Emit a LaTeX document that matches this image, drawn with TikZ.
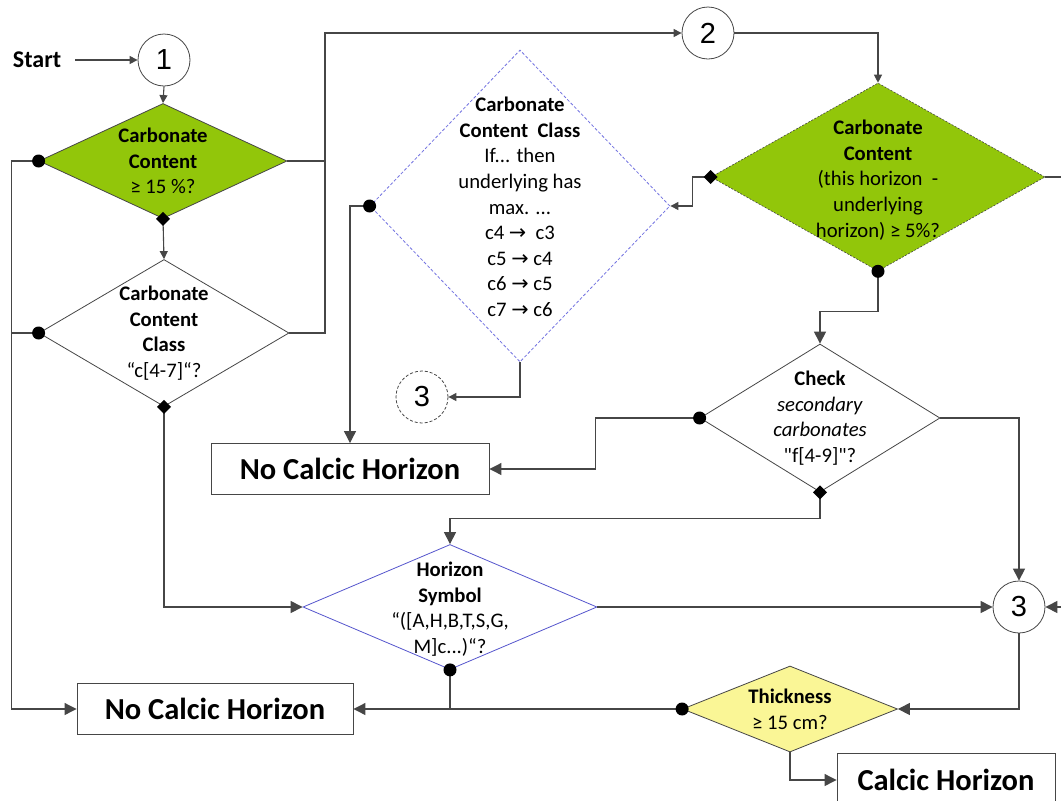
\documentclass[tikz,border=0pt]{standalone}
\usepackage{fontspec}
\setmainfont{Carlito}[Ligatures=TeXOff]
\newfontfamily\numfont{Liberation Sans}
\newfontfamily\symfont{DejaVu Sans}
\usetikzlibrary{shapes.geometric,arrows.meta}
\definecolor{lnc}{RGB}{70,70,70}
\definecolor{grn}{RGB}{146,198,10}
\definecolor{yel}{RGB}{250,246,150}
\definecolor{blu}{RGB}{85,85,205}
\definecolor{dblu}{RGB}{115,115,225}
\newcommand\dmk[1]{\fill #1 +(0,-7) -- +(7,0) -- +(0,7) -- +(-7,0) -- cycle;}
\newcommand\dotmk[1]{\fill #1 circle (6.5);}
\begin{document}
\begin{tikzpicture}[x=1pt,y=-1pt,
  conn/.style={draw=lnc,line width=1.1pt},
  arr/.style={conn,-{Triangle[length=12pt,width=12pt]}},
  sarr/.style={conn,-{Triangle[length=8pt,width=8pt]}},
  dia/.style={diamond,inner sep=0pt,draw=lnc,line width=0.8pt},
  circ/.style={circle,draw=lnc,line width=0.8pt,minimum size=52pt,inner sep=0pt,font={\numfont\fontsize{29}{30}\selectfont}},
  box/.style={rectangle,draw=lnc,line width=0.9pt,inner sep=0pt,font={\bfseries\fontsize{30.5}{32}\selectfont}},
  txt/.style={align=center,inner sep=0pt,font={\fontsize{20.7}{25.6}\selectfont}}]
\useasboundingbox (0,0) rectangle (1061,801);
\clip (0,0) rectangle (1061,801);
\fill[white] (0,0) rectangle (1061,801);
% shapes
\node[txt,font={\bfseries\fontsize{24}{26}\selectfont}] (start) at (37,60) {Start};
\node[circ] (c1) at (164,60) {1};
\node[dia,fill=grn,minimum width=248pt,minimum height=115pt] (d1) at (163,161) {};
\node[dia,minimum width=250pt,minimum height=147pt] (d2) at (164,333) {};
\node[circ] (c2) at (708,33) {2};
\node[dia,draw=dblu,dash pattern=on 3pt off 2pt,minimum width=300pt,minimum height=312pt] (dd) at (520,206) {};
\node[circ,dash pattern=on 3pt off 2pt] (dc3) at (422,397) {3};
\node[dia,fill=grn,dash pattern=on 2pt off 1.5pt,line width=0.6pt,minimum width=334pt,minimum height=188pt] (d3) at (878,177) {};
\node[box,minimum width=278pt,minimum height=51pt] (nc1) at (350,469) {No Calcic Horizon};
\node[dia,minimum width=240pt,minimum height=148pt] (ck) at (820,418) {};
\node[dia,draw=blu,minimum width=294pt,minimum height=125pt] (hz) at (450,607) {};
\node[circ] (c3) at (1019,607) {3};
\node[box,minimum width=276pt,minimum height=51pt] (nc2) at (215,709) {No Calcic Horizon};
\node[dia,fill=yel,minimum width=215pt,minimum height=86pt] (th) at (790,709) {};
\node[box,minimum width=218pt,minimum height=54pt] (ch) at (946,780) {Calcic Horizon};
% texts
\node[txt] (d1t) at (163,161) {\textbf{Carbonate}\\\textbf{Content}\\≥ 15 \%?};
\node[txt] (d2t) at (164,333) {\textbf{Carbonate}\\\textbf{Content}\\\textbf{Class}\\“c[4-7]“?};
\node[txt] (ddt) at (520,207) {\textbf{Carbonate}\\\textbf{Content\ \ Class}\\If... then\\underlying has\\max. ...\\c4 {\symfont→}\ \ c3\\c5 {\symfont→} c4\\c6 {\symfont→} c5\\c7 {\symfont→} c6};
\node[txt] (d3t) at (878,180) {\textbf{Carbonate}\\\textbf{Content}\\(this horizon\ \ -\\underlying\\horizon) ≥ 5\%?};
\node[txt] (ckt) at (820,418) {\textbf{Check}\\\textit{secondary}\\\textit{carbonates}\\"f[4-9]"?};
\node[txt] (hzt) at (450,609) {\textbf{Horizon}\\\textbf{Symbol}\\“([A,H,B,T,S,G,\\M]c...)“?};
\node[txt] (tht) at (790,709) {\textbf{Thickness}\\≥ 15 cm?};
\coordinate (j1) at (325,161);
\coordinate (redge1) at (1070,177);
\coordinate (redge3) at (1070,607);
% connectors
\draw[sarr] ([xshift=14pt]start.east) -- (c1.west);
\draw[sarr] (c1.south) -- (d1.north);
\draw[sarr] (d1.south) -- (d2.north);
\draw[arr] (d1.west) -- ++(-27,0) |- (nc2.west);
\draw[conn] (d2.west) -- ++(-27,0);
\draw[sarr] (d1.east) -- (j1) |- (c2.west);
\draw[conn] (d2.east) -| (j1);
\draw[arr] (d2.south) |- (hz.west);
\draw[sarr] (c2.east) -| (d3.north);
\draw[sarr] (d3.west) -- ++(-18,0) |- (dd.east);
\draw[conn] (d3.east) -- (redge1);
\draw[arr] (d3.south) -- ++(0,40) -| (ck.north);
\draw[arr] (dd.west) -| (nc1.north);
\draw[sarr] (dd.south) |- (dc3.east);
\draw[arr] (ck.west) -- ++(-104,0) |- (nc1.east);
\draw[arr] (ck.east) -| (c3.north);
\draw[arr] (ck.south) -- ++(0,26) -| (hz.north);
\draw[arr] (hz.east) -- (c3.west);
\draw[conn] (hz.south) -- (hz.south |- nc2.east);
\draw[arr] (th.west) -- (nc2.east);
\draw[arr] (redge3) -- (c3.east);
\draw[arr] (c3.south) |- (th.east);
\draw[arr] (th.south) |- (ch.west);
% markers
\dotmk{(d1.west)}
\dotmk{(d2.west)}
\dmk{(d1.south)}
\dmk{(d2.south)}
\dmk{(d3.west)}
\dotmk{(d3.south)}
\dotmk{(dd.west)}
\dotmk{(ck.west)}
\dmk{(ck.south)}
\dotmk{(hz.south)}
\dotmk{(th.west)}
\end{tikzpicture}
\end{document}
